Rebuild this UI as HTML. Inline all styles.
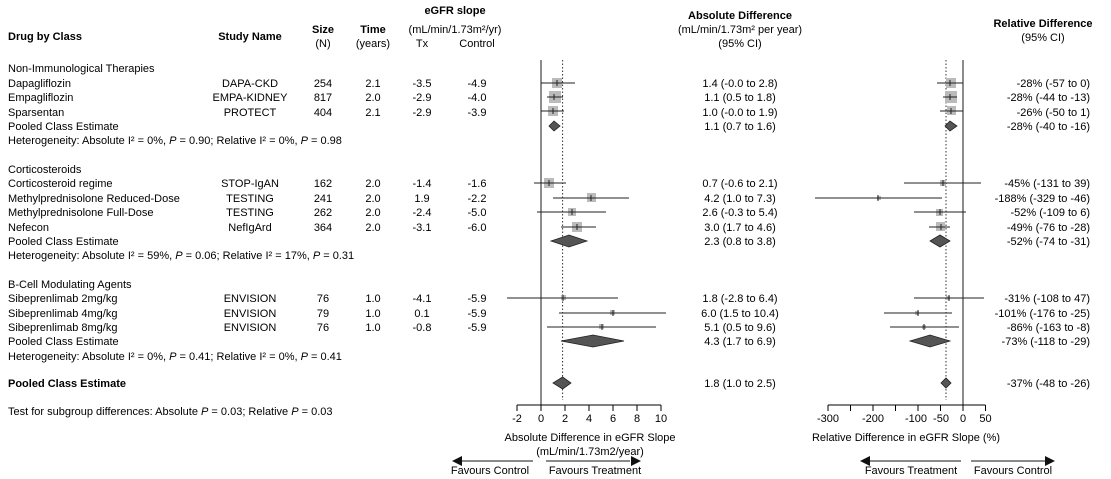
<!DOCTYPE html>
<html><head><meta charset="utf-8"><style>
body{margin:0;background:#fff;}
svg{display:block;font-family:"Liberation Sans",Arial,sans-serif;font-size:11px;fill:#000;}
.b{font-weight:bold}
</style></head><body>
<svg width="1111" height="479" viewBox="0 0 1111 479">
<!-- headers -->
<text x="8" y="40" class="b">Drug by Class</text>
<text x="250" y="40" class="b" text-anchor="middle">Study Name</text>
<text x="323" y="33" class="b" text-anchor="middle">Size</text>
<text x="323" y="47" text-anchor="middle">(N)</text>
<text x="373" y="33" class="b" text-anchor="middle">Time</text>
<text x="373" y="47" text-anchor="middle">(years)</text>
<text x="455" y="14" class="b" text-anchor="middle">eGFR slope</text>
<text x="455" y="33" text-anchor="middle">(mL/min/1.73m²/yr)</text>
<text x="422" y="47" text-anchor="middle">Tx</text>
<text x="477" y="47" text-anchor="middle">Control</text>
<text x="740" y="19" class="b" text-anchor="middle">Absolute Difference</text>
<text x="740" y="33" text-anchor="middle">(mL/min/1.73m² per year)</text>
<text x="740" y="47" text-anchor="middle">(95% CI)</text>
<text x="1043" y="27" class="b" text-anchor="middle">Relative Difference</text>
<text x="1043" y="41" text-anchor="middle">(95% CI)</text>

<!-- left text -->
<g>
<text x="8" y="72">Non-Immunological Therapies</text>
<text x="8" y="87">Dapagliflozin</text><text x="250" y="87" text-anchor="middle">DAPA-CKD</text><text x="323" y="87" text-anchor="middle">254</text><text x="373" y="87" text-anchor="middle">2.1</text><text x="422" y="87" text-anchor="middle">-3.5</text><text x="477" y="87" text-anchor="middle">-4.9</text>
<text x="8" y="101">Empagliflozin</text><text x="250" y="101" text-anchor="middle">EMPA-KIDNEY</text><text x="323" y="101" text-anchor="middle">817</text><text x="373" y="101" text-anchor="middle">2.0</text><text x="422" y="101" text-anchor="middle">-2.9</text><text x="477" y="101" text-anchor="middle">-4.0</text>
<text x="8" y="116">Sparsentan</text><text x="250" y="116" text-anchor="middle">PROTECT</text><text x="323" y="116" text-anchor="middle">404</text><text x="373" y="116" text-anchor="middle">2.1</text><text x="422" y="116" text-anchor="middle">-2.9</text><text x="477" y="116" text-anchor="middle">-3.9</text>
<text x="8" y="130">Pooled Class Estimate</text>
<text x="8" y="144">Heterogeneity: Absolute I² = 0%, <tspan font-style="italic">P</tspan> = 0.90; Relative I² = 0%, <tspan font-style="italic">P</tspan> = 0.98</text>

<text x="8" y="173">Corticosteroids</text>
<text x="8" y="187">Corticosteroid regime</text><text x="250" y="187" text-anchor="middle">STOP-IgAN</text><text x="323" y="187" text-anchor="middle">162</text><text x="373" y="187" text-anchor="middle">2.0</text><text x="422" y="187" text-anchor="middle">-1.4</text><text x="477" y="187" text-anchor="middle">-1.6</text>
<text x="8" y="202">Methylprednisolone Reduced-Dose</text><text x="250" y="202" text-anchor="middle">TESTING</text><text x="323" y="202" text-anchor="middle">241</text><text x="373" y="202" text-anchor="middle">2.0</text><text x="422" y="202" text-anchor="middle">1.9</text><text x="477" y="202" text-anchor="middle">-2.2</text>
<text x="8" y="216">Methylprednisolone Full-Dose</text><text x="250" y="216" text-anchor="middle">TESTING</text><text x="323" y="216" text-anchor="middle">262</text><text x="373" y="216" text-anchor="middle">2.0</text><text x="422" y="216" text-anchor="middle">-2.4</text><text x="477" y="216" text-anchor="middle">-5.0</text>
<text x="8" y="231">Nefecon</text><text x="250" y="231" text-anchor="middle">NefIgArd</text><text x="323" y="231" text-anchor="middle">364</text><text x="373" y="231" text-anchor="middle">2.0</text><text x="422" y="231" text-anchor="middle">-3.1</text><text x="477" y="231" text-anchor="middle">-6.0</text>
<text x="8" y="245">Pooled Class Estimate</text>
<text x="8" y="259">Heterogeneity: Absolute I² = 59%, <tspan font-style="italic">P</tspan> = 0.06; Relative I² = 17%, <tspan font-style="italic">P</tspan> = 0.31</text>

<text x="8" y="288">B-Cell Modulating Agents</text>
<text x="8" y="302">Sibeprenlimab 2mg/kg</text><text x="250" y="302" text-anchor="middle">ENVISION</text><text x="323" y="302" text-anchor="middle">76</text><text x="373" y="302" text-anchor="middle">1.0</text><text x="422" y="302" text-anchor="middle">-4.1</text><text x="477" y="302" text-anchor="middle">-5.9</text>
<text x="8" y="317">Sibeprenlimab 4mg/kg</text><text x="250" y="317" text-anchor="middle">ENVISION</text><text x="323" y="317" text-anchor="middle">79</text><text x="373" y="317" text-anchor="middle">1.0</text><text x="422" y="317" text-anchor="middle">0.1</text><text x="477" y="317" text-anchor="middle">-5.9</text>
<text x="8" y="331">Sibeprenlimab 8mg/kg</text><text x="250" y="331" text-anchor="middle">ENVISION</text><text x="323" y="331" text-anchor="middle">76</text><text x="373" y="331" text-anchor="middle">1.0</text><text x="422" y="331" text-anchor="middle">-0.8</text><text x="477" y="331" text-anchor="middle">-5.9</text>
<text x="8" y="345">Pooled Class Estimate</text>
<text x="8" y="360">Heterogeneity: Absolute I² = 0%, <tspan font-style="italic">P</tspan> = 0.41; Relative I² = 0%, <tspan font-style="italic">P</tspan> = 0.41</text>

<text x="8" y="387" class="b">Pooled Class Estimate</text>
<text x="8" y="415">Test for subgroup differences: Absolute <tspan font-style="italic">P</tspan> = 0.03; Relative <tspan font-style="italic">P</tspan> = 0.03</text>
</g>

<!-- abs CI text -->
<g text-anchor="middle">
<text x="740" y="87">1.4 (-0.0 to 2.8)</text>
<text x="740" y="101">1.1 (0.5 to 1.8)</text>
<text x="740" y="116">1.0 (-0.0 to 1.9)</text>
<text x="740" y="130">1.1 (0.7 to 1.6)</text>
<text x="740" y="187">0.7 (-0.6 to 2.1)</text>
<text x="740" y="202">4.2 (1.0 to 7.3)</text>
<text x="740" y="216">2.6 (-0.3 to 5.4)</text>
<text x="740" y="231">3.0 (1.7 to 4.6)</text>
<text x="740" y="245">2.3 (0.8 to 3.8)</text>
<text x="740" y="302">1.8 (-2.8 to 6.4)</text>
<text x="740" y="317">6.0 (1.5 to 10.4)</text>
<text x="740" y="331">5.1 (0.5 to 9.6)</text>
<text x="740" y="345">4.3 (1.7 to 6.9)</text>
<text x="740" y="387">1.8 (1.0 to 2.5)</text>
</g>
<g text-anchor="end">
<text x="1090" y="87">-28% (-57 to 0)</text>
<text x="1090" y="101">-28% (-44 to -13)</text>
<text x="1090" y="116">-26% (-50 to 1)</text>
<text x="1090" y="130">-28% (-40 to -16)</text>
<text x="1090" y="187">-45% (-131 to 39)</text>
<text x="1090" y="202">-188% (-329 to -46)</text>
<text x="1090" y="216">-52% (-109 to 6)</text>
<text x="1090" y="231">-49% (-76 to -28)</text>
<text x="1090" y="245">-52% (-74 to -31)</text>
<text x="1090" y="302">-31% (-108 to 47)</text>
<text x="1090" y="317">-101% (-176 to -25)</text>
<text x="1090" y="331">-86% (-163 to -8)</text>
<text x="1090" y="345">-73% (-118 to -29)</text>
<text x="1090" y="387">-37% (-48 to -26)</text>
</g>

<!-- ABS panel: x = 541 + 12*v -->
<line x1="541" y1="60" x2="541" y2="405" stroke="#666" stroke-width="1.5"/>
<line x1="562.6" y1="60" x2="562.6" y2="400" stroke="#333" stroke-dasharray="1.5,2"/>
<g fill="#bbb">
<rect x="552" y="78" width="10" height="10"/>
<rect x="549" y="91" width="12" height="12"/>
<rect x="548" y="106" width="10" height="10"/>
<rect x="544" y="178" width="10" height="10"/>
<rect x="587" y="193" width="9" height="9"/>
<rect x="568" y="208" width="8" height="8"/>
<rect x="572" y="222" width="10" height="10"/>
<rect x="561" y="295" width="5" height="5"/>
<rect x="610" y="310" width="5" height="5"/>
<rect x="599" y="324" width="5" height="5"/>
</g>
<g stroke="#222" stroke-width="1">
<line x1="541" y1="83" x2="575" y2="83"/><line x1="557" y1="80" x2="557" y2="86"/>
<line x1="547" y1="97" x2="563" y2="97"/><line x1="554" y1="94" x2="554" y2="100"/>
<line x1="541" y1="111" x2="564" y2="111"/><line x1="553" y1="108" x2="553" y2="114"/>
<line x1="534" y1="183" x2="566" y2="183"/><line x1="549" y1="180" x2="549" y2="186"/>
<line x1="553" y1="198" x2="629" y2="198"/><line x1="591" y1="195" x2="591" y2="201"/>
<line x1="537" y1="212" x2="606" y2="212"/><line x1="572" y1="209" x2="572" y2="215"/>
<line x1="561" y1="227" x2="596" y2="227"/><line x1="577" y1="224" x2="577" y2="230"/>
<line x1="507" y1="298" x2="618" y2="298"/><line x1="563" y1="295" x2="563" y2="301"/>
<line x1="559" y1="313" x2="666" y2="313"/><line x1="613" y1="310" x2="613" y2="316"/>
<line x1="547" y1="327" x2="656" y2="327"/><line x1="602" y1="324" x2="602" y2="330"/>
</g>
<g fill="#555" stroke="#222" stroke-width="0.8">
<polygon points="549,126 554,121 560,126 554,131"/>
<polygon points="551,241 569,235 587,241 569,247"/>
<polygon points="561,341 593,335 624,341 593,347"/>
<polygon points="553,383 562.6,377 571,383 562.6,389"/>
</g>
<g stroke="#000">
<line x1="517" y1="405" x2="661" y2="405"/>
<line x1="517" y1="405" x2="517" y2="411"/><line x1="541" y1="405" x2="541" y2="411"/><line x1="565" y1="405" x2="565" y2="411"/><line x1="589" y1="405" x2="589" y2="411"/><line x1="613" y1="405" x2="613" y2="411"/><line x1="637" y1="405" x2="637" y2="411"/><line x1="661" y1="405" x2="661" y2="411"/>
</g>
<g text-anchor="middle">
<text x="517" y="422">-2</text><text x="541" y="422">0</text><text x="565" y="422">2</text><text x="589" y="422">4</text><text x="613" y="422">6</text><text x="637" y="422">8</text><text x="661" y="422">10</text>
<text x="590" y="441">Absolute Difference in eGFR Slope</text>
<text x="590" y="455">(mL/min/1.73m2/year)</text>
<text x="490" y="474">Favours Control</text>
<text x="595" y="474">Favours Treatment</text>
<text x="911" y="474">Favours Treatment</text>
<text x="1013" y="474">Favours Control</text>
<text x="906" y="441">Relative Difference in eGFR Slope (%)</text>
</g>
<g stroke="#444" stroke-width="1.2">
<line x1="462" y1="461" x2="533" y2="461"/>
<line x1="546" y1="461" x2="630" y2="461"/>
<line x1="870" y1="461" x2="961" y2="461"/>
<line x1="971" y1="461" x2="1045" y2="461"/>
</g>
<g fill="#111">
<polygon points="452,461 462,456 462,466"/>
<polygon points="641,461 631,456 631,466"/>
<polygon points="860,461 870,456 870,466"/>
<polygon points="1055,461 1045,456 1045,466"/>
</g>

<!-- REL panel: x = 963 + 0.45*v -->
<line x1="963" y1="60" x2="963" y2="405" stroke="#666" stroke-width="1.5"/>
<line x1="946" y1="60" x2="946" y2="400" stroke="#333" stroke-dasharray="1.5,2"/>
<g fill="#bbb">
<rect x="946" y="78" width="10" height="10"/>
<rect x="945" y="91" width="12" height="12"/>
<rect x="947" y="106" width="9" height="9"/>
<rect x="940" y="180" width="6" height="6"/>
<rect x="877" y="196" width="4" height="4"/>
<rect x="936" y="209" width="7" height="7"/>
<rect x="936" y="222" width="9" height="9"/>
<rect x="946" y="296" width="4" height="4"/>
<rect x="915" y="311" width="4" height="4"/>
<rect x="922" y="325" width="4" height="4"/>
</g>
<g stroke="#222" stroke-width="1">
<line x1="937" y1="83" x2="963" y2="83"/><line x1="950" y1="80" x2="950" y2="86"/>
<line x1="943" y1="97" x2="957" y2="97"/><line x1="950" y1="94" x2="950" y2="100"/>
<line x1="940" y1="111" x2="963" y2="111"/><line x1="951" y1="108" x2="951" y2="114"/>
<line x1="904" y1="183" x2="981" y2="183"/><line x1="943" y1="180" x2="943" y2="186"/>
<line x1="815" y1="198" x2="942" y2="198"/><line x1="878" y1="195" x2="878" y2="201"/>
<line x1="914" y1="212" x2="966" y2="212"/><line x1="940" y1="209" x2="940" y2="215"/>
<line x1="929" y1="227" x2="950" y2="227"/><line x1="941" y1="224" x2="941" y2="230"/>
<line x1="914" y1="298" x2="984" y2="298"/><line x1="949" y1="295" x2="949" y2="301"/>
<line x1="884" y1="313" x2="952" y2="313"/><line x1="918" y1="310" x2="918" y2="316"/>
<line x1="890" y1="327" x2="959" y2="327"/><line x1="924" y1="324" x2="924" y2="330"/>
</g>
<g fill="#555" stroke="#222" stroke-width="0.8">
<polygon points="945,126 950,121 957,126 950,131"/>
<polygon points="930,241 940,235 950,241 940,247"/>
<polygon points="910,341 930,335 950,341 930,347"/>
<polygon points="941,383 946,378 951,383 946,388"/>
</g>
<g stroke="#000">
<line x1="828" y1="405" x2="985.5" y2="405"/>
<line x1="828" y1="405" x2="828" y2="411"/><line x1="850.5" y1="405" x2="850.5" y2="411"/><line x1="873" y1="405" x2="873" y2="411"/><line x1="895.5" y1="405" x2="895.5" y2="411"/><line x1="918" y1="405" x2="918" y2="411"/><line x1="940.5" y1="405" x2="940.5" y2="411"/><line x1="963" y1="405" x2="963" y2="411"/><line x1="985.5" y1="405" x2="985.5" y2="411"/>
</g>
<g text-anchor="middle">
<text x="828" y="422">-300</text><text x="873" y="422">-200</text><text x="916" y="422">-100</text><text x="941" y="422">-50</text><text x="963" y="422">0</text><text x="985.5" y="422">50</text>
</g>
</svg>
</body></html>
